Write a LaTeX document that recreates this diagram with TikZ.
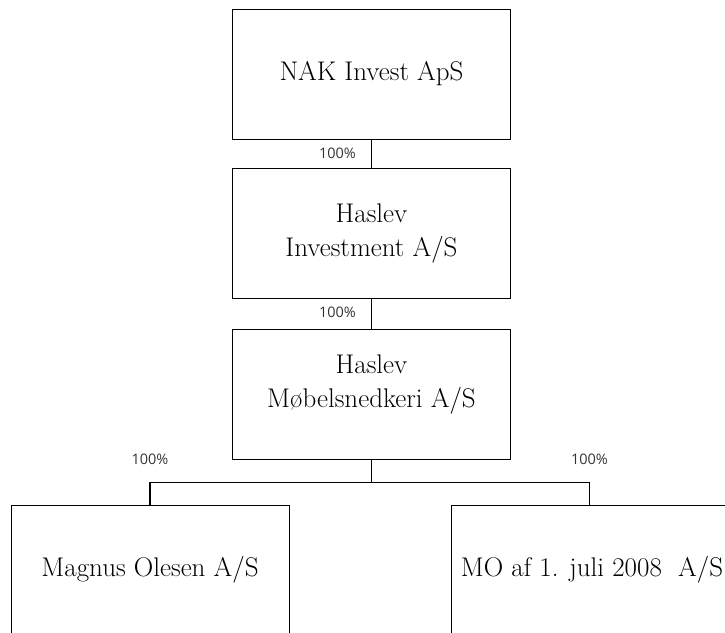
\documentclass[tikz,border=0pt]{standalone}
\usepackage{fontspec}
\newfontfamily\pctfont{Open Sans}
\usetikzlibrary{positioning}

\begin{document}
\begin{tikzpicture}[x=1pt,y=-1pt,
  firm/.style={draw, line width=1pt, minimum width=278pt, minimum height=130pt,
    align=center, inner sep=0pt, font=\fontsize{27}{34}\selectfont},
  share/.style={font=\pctfont\fontsize{14.5}{16}\selectfont, text=black!80},
  link/.style={line width=1.2pt}]
\useasboundingbox (0,0) rectangle (725,632);
\clip (0,0) rectangle (725,632);

\node (nak) [firm] at (371.5,74) {NAK Invest ApS};
\node (invest) [firm, below=28pt of nak] {Haslev\\Investment A/S};
\node (moebel) [firm, below=30pt of invest] {Haslev\\Møbelsnedkeri A/S\\[-8pt]\mbox{}};
\node (magnus) [firm] at (150,570) {Magnus Olesen A/S};
\node (mo) [firm, minimum width=282pt] at (592,570) {MO af 1. juli 2008\ \ A/S};

% ownership lines
\draw [link] (nak.south) -- (invest.north);
\draw [link] (invest.south) -- (moebel.north);
\draw [link] (moebel.south) -- ++(0,23) coordinate (fork);
\coordinate (mo top) at ([xshift=139pt]mo.north west);
\draw [link] (magnus.north) -- (magnus.north |- fork) -- (mo top |- fork) -- (mo top);

\node (p1) [share] at ([xshift=-34pt,yshift=-14pt]nak.south) {100\%};
\node (p2) [share] at ([xshift=-34pt,yshift=-14pt]invest.south) {100\%};
\node (p3) [share] at ([yshift=45pt]magnus.north) {100\%};
\node (p4) [share] at ([yshift=45pt]mo top) {100\%};
\end{tikzpicture}
\end{document}
